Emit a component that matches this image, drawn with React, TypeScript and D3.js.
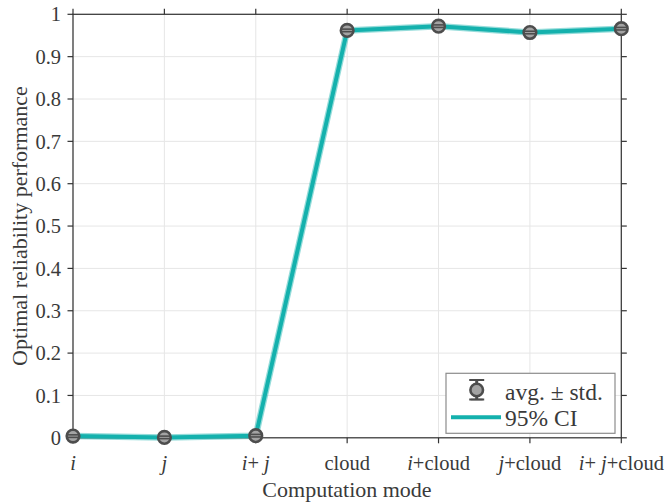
import React from "react";
import * as d3 from "d3";

const categories = ["i", "j", "i+ j", "cloud", "i+cloud", "j+cloud", "i+ j+cloud"];
const avgValues = [0.004, 0.001, 0.005, 0.962, 0.972, 0.957, 0.966];
const stdValues = [0.003, 0.003, 0.003, 0.003, 0.003, 0.003, 0.003];
const yTicks = [0, 0.1, 0.2, 0.3, 0.4, 0.5, 0.6, 0.7, 0.8, 0.9, 1];
const yTickLabels = ["0", "0.1", "0.2", "0.3", "0.4", "0.5", "0.6", "0.7", "0.8", "0.9", "1"];

const W = 668;
const H = 502;
const L = 73;
const R = 621.3;
const T = 14.3;
const B = 437.8;
const TICK = 5.5;
const FONT = "'Liberation Serif', 'Times New Roman', serif";
const TEXT = "#3a3a3a";
const AXIS = "#333333";
const TEAL = "#14b1ad";

function renderLabel(s: string) {
  const parts = s.split(/([ij])/).filter((p) => p.length > 0);
  return parts.map((p, k) =>
    p === "i" || p === "j" ? (
      <tspan key={k} fontStyle="italic">{p}</tspan>
    ) : (
      <tspan key={k}>{p}</tspan>
    )
  );
}

function Marker({ cx, cy, capTop, capBot, capW }: { cx: number; cy: number; capTop: number; capBot: number; capW: number }) {
  return (
    <g>
      <line x1={cx} x2={cx} y1={capTop} y2={capBot} stroke="#4d4d4d" strokeWidth={3} />
      <line x1={cx - capW} x2={cx + capW} y1={capTop} y2={capTop} stroke="#4d4d4d" strokeWidth={2} />
      <line x1={cx - capW} x2={cx + capW} y1={capBot} y2={capBot} stroke="#4d4d4d" strokeWidth={2} />
      <circle cx={cx} cy={cy} r={6.3} fill="#a3a3a3" stroke="#4d4d4d" strokeWidth={2.6} />
      <line x1={cx - 6} x2={cx + 6} y1={capTop} y2={capTop} stroke="#4d4d4d" strokeWidth={1.6} />
      <line x1={cx - 6} x2={cx + 6} y1={capBot} y2={capBot} stroke="#4d4d4d" strokeWidth={1.6} />
    </g>
  );
}

export default function App() {
  const x = d3.scaleLinear().domain([0, categories.length - 1]).range([L, R]);
  const y = d3.scaleLinear().domain([0, 1]).range([B, T]);
  const line = d3
    .line<number>()
    .x((_, i) => x(i))
    .y((d) => y(d));
  const path = line(avgValues) || "";

  return (
    <svg
      width={W}
      height={H}
      style={{ position: "absolute", left: 0, top: 0, background: "#fff" }}
      fontFamily={FONT}
    >
      <rect x={0} y={0} width={W} height={H} fill="#fff" />
      {/* grid */}
      {yTicks.map((t, i) => (
        <line key={"gy" + i} x1={L} x2={R} y1={y(t)} y2={y(t)} stroke="#e6e6e6" strokeWidth={1} />
      ))}
      {categories.map((_, i) => (
        <line key={"gx" + i} x1={x(i)} x2={x(i)} y1={T} y2={B} stroke="#e6e6e6" strokeWidth={1} />
      ))}
      {/* box */}
      <rect x={L} y={T} width={R - L} height={B - T} fill="none" stroke={AXIS} strokeWidth={1.2} />
      {/* y ticks (left and right, outward) */}
      {yTicks.map((t, i) => (
        <g key={"yt" + i}>
          <line x1={L - TICK} x2={L} y1={y(t)} y2={y(t)} stroke={AXIS} strokeWidth={1.2} />
          <line x1={R} x2={R + TICK} y1={y(t)} y2={y(t)} stroke={AXIS} strokeWidth={1.2} />
          <text x={L - 12} y={y(t)} dy="0.35em" textAnchor="end" fontSize={20.5} fill={TEXT}>
            {yTickLabels[i]}
          </text>
        </g>
      ))}
      {/* x ticks (top and bottom, outward) */}
      {categories.map((c, i) => (
        <g key={"xt" + i}>
          <line x1={x(i)} x2={x(i)} y1={B} y2={B + TICK} stroke={AXIS} strokeWidth={1.2} />
          <line x1={x(i)} x2={x(i)} y1={T - TICK} y2={T} stroke={AXIS} strokeWidth={1.2} />
          <text x={x(i)} y={470} textAnchor="middle" fontSize={20.5} fill={TEXT}>
            {renderLabel(c)}
          </text>
        </g>
      ))}
      {/* CI line */}
      <path d={path} fill="none" stroke={TEAL} strokeOpacity={0.45} strokeWidth={6.5} strokeLinejoin="round" />
      <path d={path} fill="none" stroke={TEAL} strokeWidth={4} strokeLinejoin="round" />
      {/* markers */}
      {avgValues.map((v, i) => (
        <Marker
          key={"m" + i}
          cx={x(i)}
          cy={y(v)}
          capTop={y(v + stdValues[i])}
          capBot={y(v - stdValues[i])}
          capW={6}
        />
      ))}
      {/* axis labels */}
      <text x={347} y={497} textAnchor="middle" fontSize={22} fill={TEXT}>
        Computation mode
      </text>
      <text
        transform={`translate(27,${(T + B) / 2}) rotate(-90)`}
        textAnchor="middle"
        fontSize={22}
        fill={TEXT}
      >
        Optimal reliability performance
      </text>
      {/* legend */}
      <g>
        <rect x={446} y={373.3} width={169} height={60} fill="#fff" stroke="#8c8c8c" strokeWidth={1.2} />
        <Marker cx={476.7} cy={390} capTop={380} capBot={399.5} capW={7.5} />
        <text x={505} y={399.5} fontSize={23.5} fill={TEXT}>
          avg. ± std.
        </text>
        <line x1={451} x2={501} y1={417.3} y2={417.3} stroke={TEAL} strokeWidth={4} />
        <text x={505} y={425.5} fontSize={23.5} fill={TEXT}>
          95% CI
        </text>
      </g>
    </svg>
  );
}
